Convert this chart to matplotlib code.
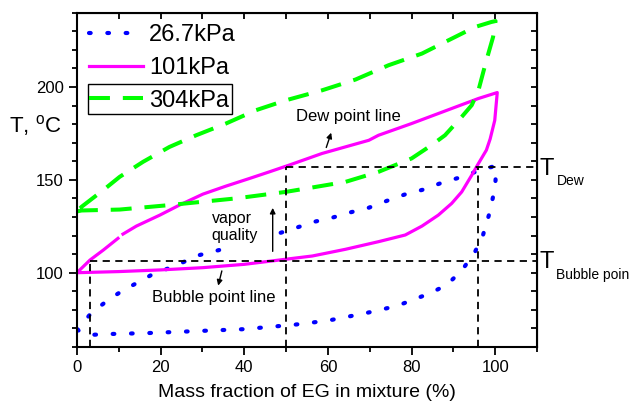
import numpy as np
import matplotlib
matplotlib.use('Agg')
import matplotlib.pyplot as plt
from matplotlib.patches import Rectangle

plt.rcParams['font.family'] = ['Liberation Sans', 'DejaVu Sans']
plt.rcParams['mathtext.default'] = 'regular'

nan = np.nan

# 26.7 kPa loop (bubble + dew)
x_bub_267 = [0, 3, 8, 17, 29, 40, 47, 52, 60, 69, 76.5, 84.4, 88.4, 92, 95.2, 97.1, 98.5, 99.5, 100.1, 100]
T_bub_267 = [69.2, 66.5, 67, 67.5, 68.6, 69.6, 71, 72, 74.2, 78.2, 82.1, 88.9, 93.4, 101.1, 111.3, 120.3, 131, 140.9, 149.8, 157.5]
x_dew_267 = [0, 3.5, 8, 11.4, 14.2, 18.2, 22.9, 29.3, 34, nan, 48.3, 52.7, 56.7, 61, 65.4, 69.8, 74.1,
             78.5, 82.9, 87.2, 91.6, 95.8, 100]
T_dew_267 = [69.2, 78.5, 86.2, 91, 94.3, 99.3, 103.2, 109.5, 112.2, nan, 121.2, 124.4, 127.4, 129.6, 132.5,
             135, 138.7, 142.2, 144.8, 148.4, 151.3, 154.7, 157.5]

# 101 kPa loop
x_bub_101 = [0, 5, 10, 20, 30, 40, 48.3, 56.3, 64.2, 72.1, 78.5, 82.5, 86.4, 89.6, 92, 94.4, 96, 97.9,
             98.8, 99.9, 100.5]
T_bub_101 = [100, 100.3, 100.6, 101.5, 102.7, 104.5, 106.8, 109, 112.6, 116.7, 120.3, 125.1, 131, 137.3,
             143.5, 152.5, 158.8, 166, 172, 182, 197]
x_dew_101 = [0, 3.1, 6.3, 9.8, nan, 11, 14.2, 19.8, 24.5, 30.1, 35.6, 41.2, 46, 50.7, 58.6, 69.8, 72.1,
             80, 89.6, 96, 100.5]
T_dew_101 = [100, 106.8, 112.2, 118.5, nan, 120.8, 125.1, 131, 136.4, 142.3, 146.6, 150.7, 154.3, 157.9,
             164.2, 171.3, 174, 180.3, 188.4, 193.8, 197]

# 304 kPa loop
x_bub_304 = [0, 1.1, 10.2, 22.1, 30, 38, 49.9, 56.3, 64.2, 72.1, 80, 84.8, 88, 92, 94.4, 96, 97.9, 99.5, 100.1]
T_bub_304 = [133, 133.5, 134, 136.4, 138.2, 140, 143.5, 145.9, 148.9, 154.3, 161.5, 168.7, 174, 183.9,
             190.2, 198.2, 214.3, 226.9, 235.5]
x_dew_304 = [0, 1.1, 6.3, 10.2, 15.8, 22.1, 28.5, 35.6, 42.8, 49.9, 58.6, 66.6, 74.5, 82.5, 88, 95.2, 99.1, 100.1]
T_dew_304 = [133, 135.5, 144.5, 151.6, 159.7, 167.7, 174, 180.3, 187.5, 192.8, 198.2, 204, 211.7, 218,
             224.2, 232.3, 235, 235.5]

# guide lines (example at 50 % EG)
x_guides = [3, 50, 96]
T_dew_mark = 156.7
T_bub_mark = 106.5

fig = plt.figure(figsize=(6.29, 4.12), dpi=100)
ax = fig.add_axes([0.1224, 0.1578, 0.7313, 0.8114])

ax.plot(np.r_[x_bub_267, x_dew_267[::-1]], np.r_[T_bub_267, T_dew_267[::-1]], color='#0000ff', lw=3,
        ls=(0, (0.4, 4.0)), dash_capstyle='round', label='26.7kPa')
ax.plot(np.r_[x_bub_101, x_dew_101[::-1]], np.r_[T_bub_101, T_dew_101[::-1]], color='#ff00ff', lw=2.3,
        label='101kPa')
ax.plot(np.r_[x_bub_304, x_dew_304[::-1]], np.r_[T_bub_304, T_dew_304[::-1]], color='#00ff00', lw=2.9,
        ls=(0, (5.2, 3.2)), label='304kPa')

# dashed guide lines
gk = dict(color='black', lw=1.3, ls=(0, (4, 3)))
ax.plot([x_guides[1], 110], [T_dew_mark, T_dew_mark], **gk)
ax.plot([x_guides[0], 110], [T_bub_mark, T_bub_mark], **gk)
ax.plot([x_guides[0], x_guides[0]], [60, T_bub_mark], **gk)
ax.plot([x_guides[1], x_guides[1]], [60, T_dew_mark], **gk)
ax.plot([x_guides[2], x_guides[2]], [60, T_dew_mark], **gk)

# annotations
ax.text(65, 184, 'Dew point line', fontsize=12, ha='center', va='center')
ax.annotate('', xy=(61, 176.8), xytext=(59.4, 166),
            arrowprops=dict(arrowstyle='-|>', color='black', lw=1, mutation_scale=8))
ax.text(32.8, 86.4, 'Bubble point line', fontsize=12, ha='center', va='center')
ax.annotate('', xy=(33.6, 91.6), xytext=(34.8, 102.4),
            arrowprops=dict(arrowstyle='-|>', color='black', lw=1, mutation_scale=8))
ax.text(32.2, 124.6, 'vapor\nquality', fontsize=11.5, ha='left', va='center', linespacing=1.15)
ax.annotate('', xy=(46.8, 136.4), xytext=(46.8, 110),
            arrowprops=dict(arrowstyle='-|>', color='black', lw=1, mutation_scale=8))

# T_Dew / T_Bubble point labels on the right
ytr = ax.get_yaxis_transform()
for T_mark, sub in [(T_dew_mark, 'Dew'), (T_bub_mark, 'Bubble point')]:
    ax.annotate('T', xy=(1.0, T_mark), xycoords=ytr, xytext=(2, -1), textcoords='offset points',
                fontsize=17, ha='left', va='center', annotation_clip=False)
    ax.annotate(sub, xy=(1.0, T_mark), xycoords=ytr, xytext=(14, -10), textcoords='offset points',
                fontsize=10, ha='left', va='center', annotation_clip=False)

ax.set_xlim(0, 110)
ax.set_ylim(60, 240)
ax.set_xticks([0, 20, 40, 60, 80, 100])
ax.set_xticks(np.arange(0, 111, 10), minor=True)
ax.set_yticks([100, 150, 200])
ax.set_yticks(np.arange(60, 241, 10), minor=True)
ax.tick_params(which='major', direction='out', length=6, width=1.3, labelsize=12)
ax.tick_params(which='minor', direction='out', length=3.5, width=1.3)
for s in ax.spines.values():
    s.set_linewidth(1.5)

top = ax.secondary_xaxis('top')
top.set_xticks(np.arange(0, 111, 10))
top.tick_params(direction='in', length=4, width=1.3, labeltop=False)
right = ax.secondary_yaxis('right')
right.set_yticks(np.arange(60, 241, 10))
right.tick_params(direction='in', length=4, width=1.3, labelright=False)

ax.set_xlabel('Mass fraction of EG in mixture (%)', fontsize=14, labelpad=6)
ax.set_ylabel('T, $^{o}$C', fontsize=16, rotation=0, ha='center', va='center')
ax.yaxis.set_label_coords(-0.091, 0.664)

leg = ax.legend(loc='upper left', frameon=False, fontsize=17, handlelength=2.3, handletextpad=0.25,
                labelspacing=0.45, borderaxespad=0.1, bbox_to_anchor=(0.0, 1.0))
ax.add_patch(Rectangle((0.024, 0.697), 0.313, 0.09, transform=ax.transAxes, fill=False,
                       edgecolor='black', lw=1))

fig.savefig('out.png', dpi=100)
